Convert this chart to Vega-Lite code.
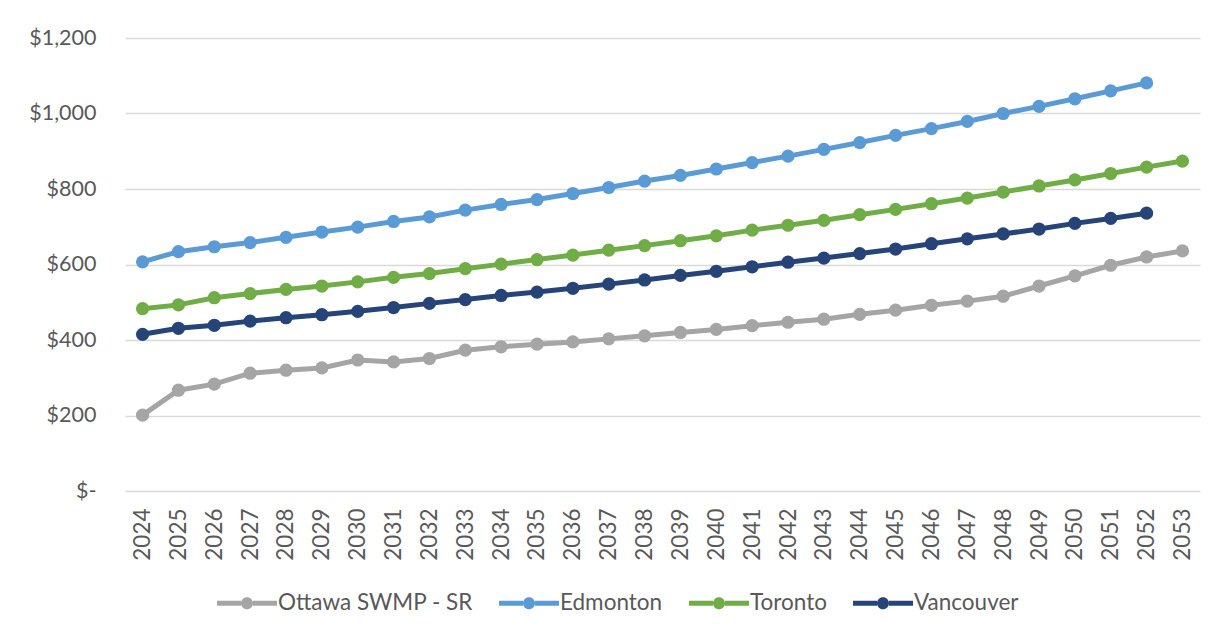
{
  "$schema": "https://vega.github.io/schema/vega-lite/v6.json",
  "autosize": {"type": "none"},
  "width": 1075,
  "height": 453,
  "padding": {"left": 125, "top": 38, "right": 21, "bottom": 144},
  "background": "white",
  "config": {
    "view": {"stroke": null},
    "font": "Lato"
  },
  "data": {
    "values": [
      {"year": 2024, "city": "Ottawa SWMP - SR", "cost": 201},
      {"year": 2025, "city": "Ottawa SWMP - SR", "cost": 267},
      {"year": 2026, "city": "Ottawa SWMP - SR", "cost": 283},
      {"year": 2027, "city": "Ottawa SWMP - SR", "cost": 312},
      {"year": 2028, "city": "Ottawa SWMP - SR", "cost": 320},
      {"year": 2029, "city": "Ottawa SWMP - SR", "cost": 326},
      {"year": 2030, "city": "Ottawa SWMP - SR", "cost": 347},
      {"year": 2031, "city": "Ottawa SWMP - SR", "cost": 342},
      {"year": 2032, "city": "Ottawa SWMP - SR", "cost": 351},
      {"year": 2033, "city": "Ottawa SWMP - SR", "cost": 373},
      {"year": 2034, "city": "Ottawa SWMP - SR", "cost": 382},
      {"year": 2035, "city": "Ottawa SWMP - SR", "cost": 389},
      {"year": 2036, "city": "Ottawa SWMP - SR", "cost": 395},
      {"year": 2037, "city": "Ottawa SWMP - SR", "cost": 403},
      {"year": 2038, "city": "Ottawa SWMP - SR", "cost": 411},
      {"year": 2039, "city": "Ottawa SWMP - SR", "cost": 420},
      {"year": 2040, "city": "Ottawa SWMP - SR", "cost": 428},
      {"year": 2041, "city": "Ottawa SWMP - SR", "cost": 438},
      {"year": 2042, "city": "Ottawa SWMP - SR", "cost": 447},
      {"year": 2043, "city": "Ottawa SWMP - SR", "cost": 455},
      {"year": 2044, "city": "Ottawa SWMP - SR", "cost": 468},
      {"year": 2045, "city": "Ottawa SWMP - SR", "cost": 479},
      {"year": 2046, "city": "Ottawa SWMP - SR", "cost": 492},
      {"year": 2047, "city": "Ottawa SWMP - SR", "cost": 503},
      {"year": 2048, "city": "Ottawa SWMP - SR", "cost": 516},
      {"year": 2049, "city": "Ottawa SWMP - SR", "cost": 543},
      {"year": 2050, "city": "Ottawa SWMP - SR", "cost": 570},
      {"year": 2051, "city": "Ottawa SWMP - SR", "cost": 598},
      {"year": 2052, "city": "Ottawa SWMP - SR", "cost": 620},
      {"year": 2053, "city": "Ottawa SWMP - SR", "cost": 636},
      {"year": 2024, "city": "Edmonton", "cost": 607},
      {"year": 2025, "city": "Edmonton", "cost": 634},
      {"year": 2026, "city": "Edmonton", "cost": 647},
      {"year": 2027, "city": "Edmonton", "cost": 658},
      {"year": 2028, "city": "Edmonton", "cost": 672},
      {"year": 2029, "city": "Edmonton", "cost": 686},
      {"year": 2030, "city": "Edmonton", "cost": 699},
      {"year": 2031, "city": "Edmonton", "cost": 714},
      {"year": 2032, "city": "Edmonton", "cost": 726},
      {"year": 2033, "city": "Edmonton", "cost": 744},
      {"year": 2034, "city": "Edmonton", "cost": 759},
      {"year": 2035, "city": "Edmonton", "cost": 772},
      {"year": 2036, "city": "Edmonton", "cost": 788},
      {"year": 2037, "city": "Edmonton", "cost": 804},
      {"year": 2038, "city": "Edmonton", "cost": 821},
      {"year": 2039, "city": "Edmonton", "cost": 836},
      {"year": 2040, "city": "Edmonton", "cost": 853},
      {"year": 2041, "city": "Edmonton", "cost": 870},
      {"year": 2042, "city": "Edmonton", "cost": 887},
      {"year": 2043, "city": "Edmonton", "cost": 905},
      {"year": 2044, "city": "Edmonton", "cost": 923},
      {"year": 2045, "city": "Edmonton", "cost": 942},
      {"year": 2046, "city": "Edmonton", "cost": 960},
      {"year": 2047, "city": "Edmonton", "cost": 979},
      {"year": 2048, "city": "Edmonton", "cost": 1000},
      {"year": 2049, "city": "Edmonton", "cost": 1019},
      {"year": 2050, "city": "Edmonton", "cost": 1039},
      {"year": 2051, "city": "Edmonton", "cost": 1060},
      {"year": 2052, "city": "Edmonton", "cost": 1081},
      {"year": 2024, "city": "Toronto", "cost": 483},
      {"year": 2025, "city": "Toronto", "cost": 493},
      {"year": 2026, "city": "Toronto", "cost": 512},
      {"year": 2027, "city": "Toronto", "cost": 523},
      {"year": 2028, "city": "Toronto", "cost": 534},
      {"year": 2029, "city": "Toronto", "cost": 543},
      {"year": 2030, "city": "Toronto", "cost": 554},
      {"year": 2031, "city": "Toronto", "cost": 566},
      {"year": 2032, "city": "Toronto", "cost": 576},
      {"year": 2033, "city": "Toronto", "cost": 589},
      {"year": 2034, "city": "Toronto", "cost": 601},
      {"year": 2035, "city": "Toronto", "cost": 613},
      {"year": 2036, "city": "Toronto", "cost": 625},
      {"year": 2037, "city": "Toronto", "cost": 638},
      {"year": 2038, "city": "Toronto", "cost": 650},
      {"year": 2039, "city": "Toronto", "cost": 663},
      {"year": 2040, "city": "Toronto", "cost": 676},
      {"year": 2041, "city": "Toronto", "cost": 691},
      {"year": 2042, "city": "Toronto", "cost": 704},
      {"year": 2043, "city": "Toronto", "cost": 717},
      {"year": 2044, "city": "Toronto", "cost": 732},
      {"year": 2045, "city": "Toronto", "cost": 746},
      {"year": 2046, "city": "Toronto", "cost": 761},
      {"year": 2047, "city": "Toronto", "cost": 776},
      {"year": 2048, "city": "Toronto", "cost": 792},
      {"year": 2049, "city": "Toronto", "cost": 808},
      {"year": 2050, "city": "Toronto", "cost": 824},
      {"year": 2051, "city": "Toronto", "cost": 841},
      {"year": 2052, "city": "Toronto", "cost": 858},
      {"year": 2053, "city": "Toronto", "cost": 874},
      {"year": 2024, "city": "Vancouver", "cost": 415},
      {"year": 2025, "city": "Vancouver", "cost": 431},
      {"year": 2026, "city": "Vancouver", "cost": 439},
      {"year": 2027, "city": "Vancouver", "cost": 450},
      {"year": 2028, "city": "Vancouver", "cost": 459},
      {"year": 2029, "city": "Vancouver", "cost": 467},
      {"year": 2030, "city": "Vancouver", "cost": 476},
      {"year": 2031, "city": "Vancouver", "cost": 486},
      {"year": 2032, "city": "Vancouver", "cost": 497},
      {"year": 2033, "city": "Vancouver", "cost": 507},
      {"year": 2034, "city": "Vancouver", "cost": 518},
      {"year": 2035, "city": "Vancouver", "cost": 527},
      {"year": 2036, "city": "Vancouver", "cost": 537},
      {"year": 2037, "city": "Vancouver", "cost": 548},
      {"year": 2038, "city": "Vancouver", "cost": 559},
      {"year": 2039, "city": "Vancouver", "cost": 571},
      {"year": 2040, "city": "Vancouver", "cost": 582},
      {"year": 2041, "city": "Vancouver", "cost": 594},
      {"year": 2042, "city": "Vancouver", "cost": 606},
      {"year": 2043, "city": "Vancouver", "cost": 617},
      {"year": 2044, "city": "Vancouver", "cost": 629},
      {"year": 2045, "city": "Vancouver", "cost": 641},
      {"year": 2046, "city": "Vancouver", "cost": 655},
      {"year": 2047, "city": "Vancouver", "cost": 668},
      {"year": 2048, "city": "Vancouver", "cost": 681},
      {"year": 2049, "city": "Vancouver", "cost": 694},
      {"year": 2050, "city": "Vancouver", "cost": 709},
      {"year": 2051, "city": "Vancouver", "cost": 722},
      {"year": 2052, "city": "Vancouver", "cost": 736}
    ]
  },
  "encoding": {
    "x": {
      "field": "year",
      "type": "ordinal",
      "scale": {"type": "point", "padding": 0.49},
      "axis": {
        "title": null,
        "labelAngle": -90,
        "labelFont": "Lato",
        "labelFontSize": 22.5,
        "labelColor": "#595959",
        "labelPadding": 17,
        "ticks": false,
        "domain": false,
        "grid": false
      }
    },
    "y": {
      "field": "cost",
      "type": "quantitative",
      "scale": {"domain": [0, 1200], "nice": false},
      "axis": {
        "title": null,
        "values": [0, 200, 400, 600, 800, 1000, 1200],
        "labelExpr": "datum.value === 0 ? '$-\u00a0\u00a0\u00a0' : '$' + format(datum.value, ',')",
        "labelFont": "Lato",
        "labelFontSize": 21.5,
        "labelColor": "#595959",
        "labelPadding": 29,
        "ticks": false,
        "domain": false,
        "grid": true,
        "gridColor": "#D9D9D9",
        "gridWidth": 1.5
      }
    },
    "color": {
      "field": "city",
      "type": "nominal",
      "scale": {
        "domain": ["Ottawa SWMP - SR", "Edmonton", "Toronto", "Vancouver"],
        "range": ["#A5A5A5", "#5B9BD5", "#70AD47", "#264478"]
      },
      "legend": {
        "title": null,
        "orient": "none",
        "legendX": 92,
        "legendY": 535,
        "direction": "horizontal",
        "columns": 4,
        "padding": 0,
        "columnPadding": 26,
        "symbolType": "M-1,-0.08H-0.2V0.08H-1Z M0.2,-0.08H1V0.08H0.2Z M-0.2,0A0.2,0.2 0 1,1 0.2,0A0.2,0.2 0 1,1 -0.2,0Z",
        "symbolSize": 3600,
        "symbolStrokeWidth": 0,
        "labelFont": "Lato",
        "labelFontSize": 22.5,
        "labelColor": "#595959",
        "labelOffset": 1,
        "labelLimit": 400,
        "encode": {
          "symbols": {
            "update": {
              "fill": {"scale": "color", "field": "value"},
              "fillOpacity": {"value": 1},
              "opacity": {"value": 1},
              "stroke": {"value": "transparent"}
            }
          }
        }
      }
    }
  },
  "layer": [
    {"mark": {"type": "line", "strokeWidth": 5}},
    {"mark": {"type": "point", "filled": true, "size": 175, "opacity": 1, "shape": "circle"}}
  ]
}
